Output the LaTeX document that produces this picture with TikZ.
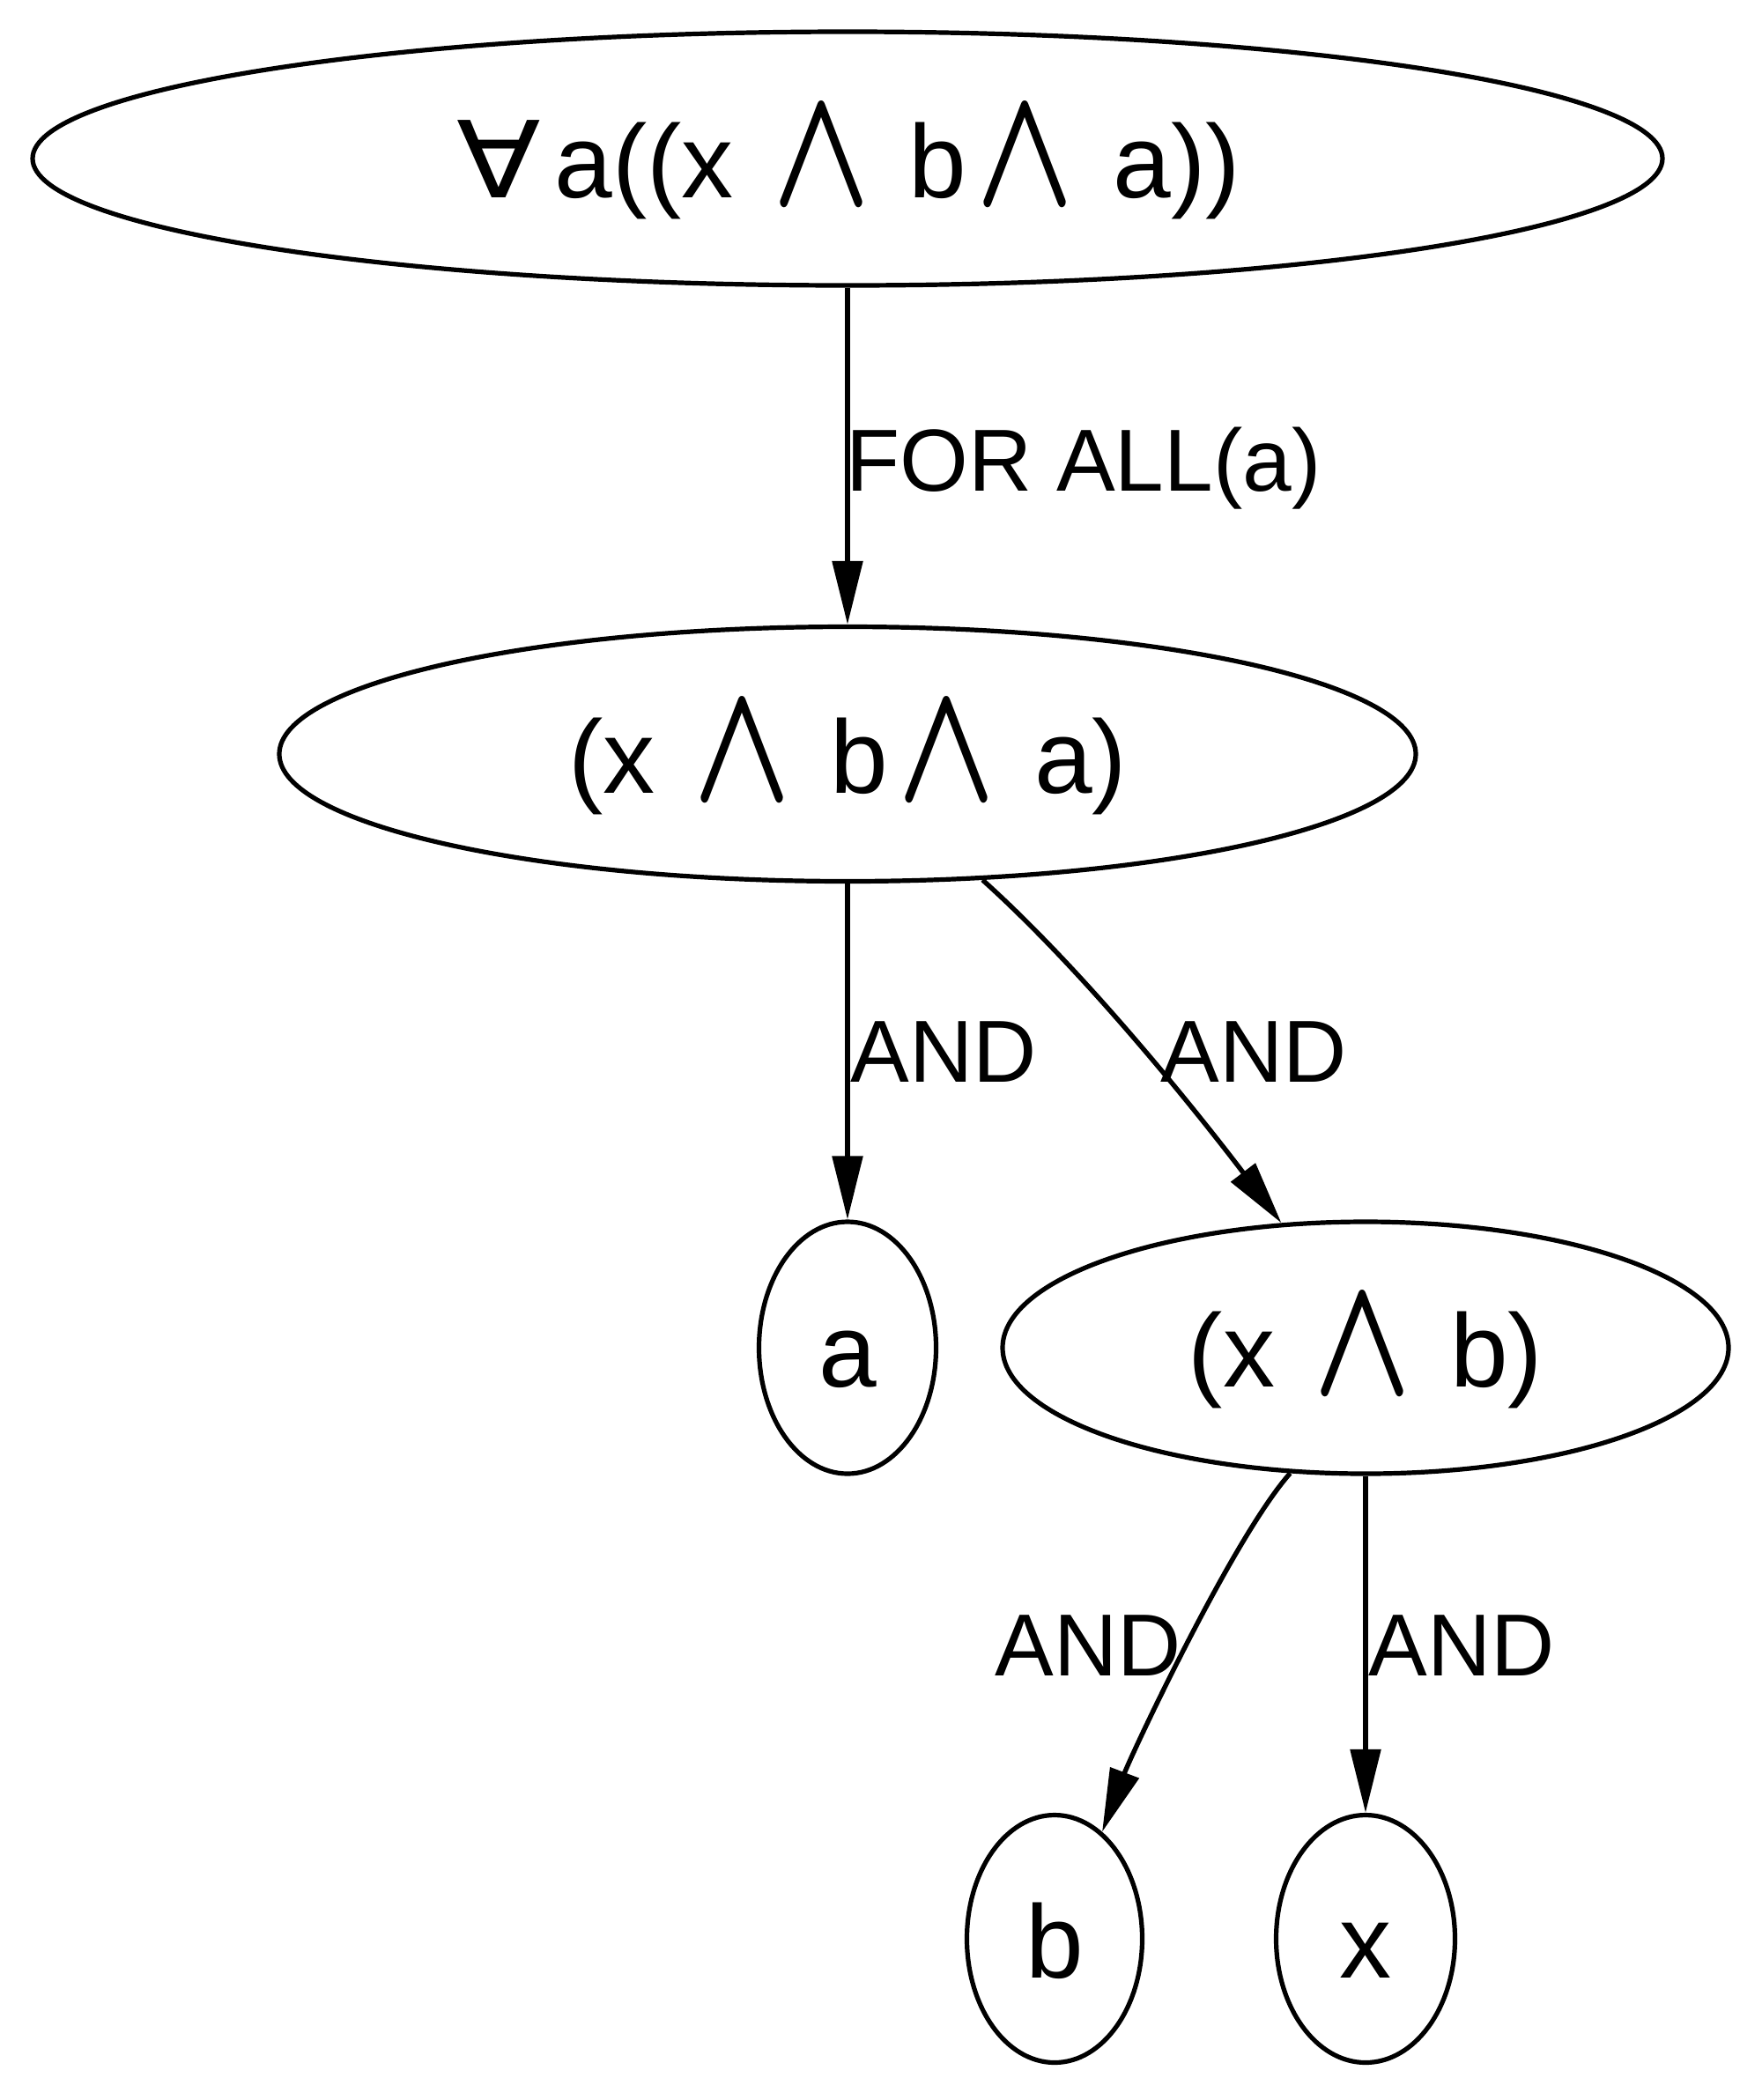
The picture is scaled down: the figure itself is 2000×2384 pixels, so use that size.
\documentclass[tikz,border=0pt]{standalone}
\usepackage{fontspec}
\usepackage{graphicx}
\setmainfont{Liberation Sans}
\newfontfamily\symfont{DejaVu Sans}
\usetikzlibrary{arrows.meta,shapes.geometric}
% logical symbols: a tall, narrow wedge and a wide universal quantifier
\newcommand\conj{\makebox[1.13em]{\raisebox{-0.07em}{\resizebox{0.95em}{0.92em}{\boldmath$\wedge$}}}}
\newcommand\forallsym{\makebox[0.96em][l]{\hspace{0.02em}\resizebox{0.81em}{0.745em}{\symfont ∀}}}
\begin{document}
\begin{tikzpicture}[x=0.5pt,y=-0.5pt,
  st/.style={ellipse, draw, line width=2.6pt, inner sep=0pt,
    font=\fontsize{59}{61}\selectfont, text height=44pt, text depth=0pt},
  edge/.style={line width=2.7pt, -{Triangle[length=36pt,width=17pt]}},
  lbl/.style={font=\fontsize{50}{52}\selectfont, inner sep=0pt, anchor=base west}]
\path[use as bounding box, fill=white] (0,0) rectangle (2000,2384);

% formula tree
\node[st, minimum width=925pt, minimum height=144pt] (top) at (962,180) {\forallsym a((x \conj{} b\conj{} a))};
\node[st, minimum width=645pt, minimum height=144.5pt] (mid) at (962,856) {(x \conj{} b\conj{} a)};
\node[st, minimum width=100.5pt, minimum height=143pt] (na) at (962,1530) {a};
\node[st, minimum width=412pt, minimum height=143pt] (xb) at (1550,1530) {(x \conj{} b)};
\node[st, minimum width=99.5pt, minimum height=140.5pt] (nb) at (1197,2201) {b};
\node[st, minimum width=101.5pt, minimum height=140.5pt] (nx) at (1550,2201) {x};

% connectors
\draw[edge] (top.south) -- (mid.north);
\draw[edge] (mid.south) -- (na.north);
\draw[edge] (mid.-43.6) .. controls (1250,1120) and (1395,1310) .. (xb.124);
\draw[edge] (xb.-121.3) .. controls (1400,1745) and (1285,1990) .. (nb.66.5);
\draw[edge] (xb.south) -- (nx.north);

% connector labels
\node[lbl] (l1) at (960,557) {FOR ALL(a)};
\node[lbl] (l2) at (965,1228) {AND};
\node[lbl] (l3) at (1317,1228) {AND};
\node[lbl] (l4) at (1129,1902) {AND};
\node[lbl] (l5) at (1553,1902) {AND};
\end{tikzpicture}
\end{document}
